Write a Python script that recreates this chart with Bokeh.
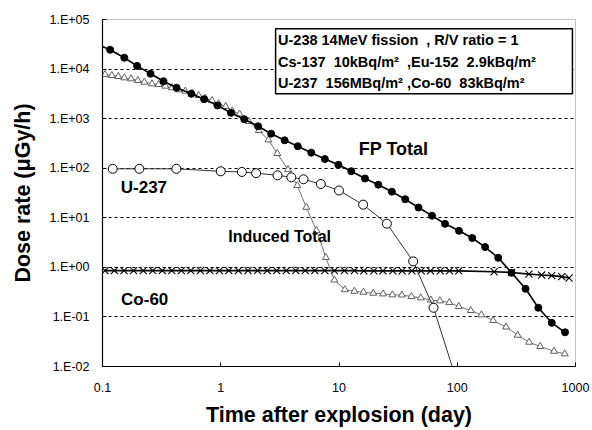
from bokeh.plotting import figure
from bokeh.models import FixedTicker, CustomJSTickFormatter, Label, BoxAnnotation, ColumnDataSource
from bokeh.embed import file_html
from bokeh.resources import INLINE

# ---------------- data ----------------
# FP Total (filled circles); first point only starts the line at the left edge
fp_t = [0.092, 0.116, 0.153, 0.196, 0.255, 0.328, 0.423, 0.564, 0.723, 0.938, 1.22, 1.58, 2.07,
        2.67, 3.47, 4.48, 5.83, 7.59, 9.89, 12.7, 16.6, 21.5, 28.0, 36.3, 47.0, 61.2, 78.8,
        103.5, 134, 172, 222, 288, 378, 485, 630, 816]
fp_v = [31000, 24500, 16900, 11600, 8040, 5690, 4190, 3170, 2470, 1840, 1310, 975, 701,
        497, 366, 278, 206, 153, 117, 87.1, 62.0, 46.5, 33.6, 23.7, 16.1, 11.0, 7.56,
        5.46, 3.91, 2.57, 1.56, 0.776, 0.369, 0.153, 0.076, 0.049]

# Induced Total (open triangles)
ind_t = [0.105, 0.120, 0.136, 0.153, 0.174, 0.199, 0.226, 0.262, 0.298, 0.340, 0.387, 0.440,
         0.501, 0.572, 0.650, 0.741, 0.845, 0.962, 1.10, 1.25, 1.44, 1.73, 2.10, 2.53, 3.01,
         3.71, 4.44, 5.29, 6.45, 7.74, 9.14, 11.2, 13.5, 16.1, 19.5, 23.6, 28.3, 34.0, 41.0,
         49.2, 59.8, 71.3, 85.7, 103, 130, 160, 201, 259, 324, 405, 503, 658, 811]
ind_v = [7770, 7410, 7080, 6660, 6360, 5880, 5440, 5050, 4890, 4520, 4200, 3830,
         3590, 3270, 2930, 2580, 2320, 1990, 1760, 1430, 1240, 876, 577, 374, 198,
         93.8, 44.7, 16.3, 5.53, 1.58, 0.556, 0.354, 0.329, 0.315, 0.301, 0.292, 0.279, 0.277, 0.258,
         0.243, 0.219, 0.211, 0.195, 0.162, 0.135, 0.110, 0.0847, 0.0627, 0.0428, 0.0309, 0.0253, 0.0203, 0.0180]

# U-237 (open circles); last point only continues the line below the axis
u_t = [0.122, 0.205, 0.421, 1.00, 1.51, 1.99, 3.02, 3.95, 5.01, 7.02, 10.0, 16.0, 25.4, 42.4, 63.0, 102]
u_v = [97.2, 97.2, 97.2, 86.7, 84.0, 79.3, 71.9, 65.6, 59.8, 48.0, 35.5, 18.4, 7.60, 1.32, 0.153, 0.0041]

# Co-60 (crosses)
co_t = [0.105, 0.126, 0.152, 0.183, 0.221, 0.266, 0.320, 0.385, 0.464, 0.558, 0.673, 0.810,
        0.975, 1.17, 1.41, 1.70, 2.05, 2.47, 2.97, 3.58, 4.31, 5.18, 6.24, 7.59, 9.14,
        11.1, 13.5, 16.2, 19.7, 23.5, 28.5, 34.2, 41.3, 49.5, 59.4, 71.9, 86.1, 103,
        205, 288, 404, 517, 629, 764, 883]
co_v = [0.86, 0.86, 0.86, 0.86, 0.86, 0.86, 0.86, 0.86, 0.86, 0.86, 0.86, 0.86,
        0.86, 0.86, 0.86, 0.86, 0.86, 0.86, 0.86, 0.86, 0.86, 0.86, 0.86, 0.86, 0.86,
        0.86, 0.86, 0.85, 0.85, 0.85, 0.85, 0.85, 0.85, 0.85, 0.85, 0.85, 0.85, 0.85,
        0.815, 0.79, 0.73, 0.70, 0.68, 0.65, 0.61]

x_ticks = [0.1, 1, 10, 100, 1000]
x_tick_labels = ["0.1", "1", "10", "100", "1000"]
y_ticks = [1e-2, 1e-1, 1e0, 1e1, 1e2, 1e3, 1e4, 1e5]
y_tick_labels = ["1.E-02", "1.E-01", "1.E+00", "1.E+01", "1.E+02", "1.E+03", "1.E+04", "1.E+05"]

NB = "\u00a0"
info_lines = ["U-238 14MeV fission" + NB + NB + ", R/V ratio = 1",
              "Cs-137" + NB + NB + "10kBq/m\u00b2" + NB + NB + ",Eu-152" + NB + NB + "2.9kBq/m\u00b2",
              "U-237" + NB + NB + "156MBq/m\u00b2 ,Co-60" + NB + NB + "83kBq/m\u00b2"]

FONT = "Liberation Sans"

p = figure(width=592, height=430, x_axis_type="log", y_axis_type="log",
           x_range=(0.1, 1000), y_range=(0.01, 1e5),
           output_backend="svg", toolbar_location=None,
           min_border_left=102, min_border_right=17, min_border_top=19, min_border_bottom=64,
           background_fill_color="white", border_fill_color="white")

p.outline_line_color = "#888888"
p.outline_line_dash = "1 1"
p.xgrid.visible = False
p.ygrid.grid_line_color = "black"
p.ygrid.grid_line_dash = "3 3"
p.ygrid.grid_line_width = 1

fmt_code = """
for (let i = 0; i < tv.length; i++) {
  if (Math.abs(Math.log10(tick) - Math.log10(tv[i])) < 1e-6) return labels[i];
}
return '';
"""
p.xaxis.ticker = FixedTicker(ticks=x_ticks)
p.xaxis.formatter = CustomJSTickFormatter(args=dict(tv=x_ticks, labels=x_tick_labels), code=fmt_code)
p.yaxis.ticker = FixedTicker(ticks=y_ticks)
p.yaxis.formatter = CustomJSTickFormatter(args=dict(tv=y_ticks, labels=y_tick_labels), code=fmt_code)

for ax in (p.xaxis[0], p.yaxis[0]):
    ax.axis_line_color = "black"
    ax.axis_line_width = 1.2
    ax.major_tick_in = 4
    ax.major_tick_out = 0
    ax.minor_tick_in = 0
    ax.minor_tick_out = 0
    ax.major_tick_line_color = "black"
    ax.major_label_text_font = FONT
    ax.major_label_text_font_size = "12.5px"
    ax.major_label_text_color = "black"
    ax.axis_label_text_font = FONT
    ax.axis_label_text_font_style = "bold"
    ax.axis_label_text_color = "black"

p.xaxis.axis_label = "Time after explosion (day)"
p.xaxis.axis_label_text_font_size = "21.5px"
p.xaxis.major_label_standoff = 16
p.xaxis.axis_label_standoff = 8
p.yaxis.axis_label = "Dose rate (\u03bcGy/h)"
p.yaxis.axis_label_text_font_size = "21.5px"
p.yaxis.major_label_standoff = 13
p.yaxis.axis_label_standoff = 12

# ---------------- series ----------------
fp_src = ColumnDataSource(dict(t=fp_t, v=fp_v))
fp_mk = ColumnDataSource(dict(t=fp_t[1:], v=fp_v[1:]))
ind_src = ColumnDataSource(dict(t=ind_t, v=ind_v))
u_src = ColumnDataSource(dict(t=u_t, v=u_v))
u_mk = ColumnDataSource(dict(t=u_t[:-1], v=u_v[:-1]))
co_src = ColumnDataSource(dict(t=co_t, v=co_v))

# Co-60
p.line("t", "v", source=co_src, line_color="black", line_width=1.6)
p.scatter("t", "v", source=co_src, marker="x", size=10, line_color="black", line_width=1.1)

# Induced total
p.line("t", "v", source=ind_src, line_color="#707070", line_width=1)
p.scatter("t", "v", source=ind_src, marker="triangle", size=7, fill_color="white",
          line_color="#606060", line_width=1)

# U-237
p.line("t", "v", source=u_src, line_color="#333333", line_width=1)
p.scatter("t", "v", source=u_mk, marker="circle", size=9, fill_color="white",
          line_color="black", line_width=1)

# FP total
p.line("t", "v", source=fp_src, line_color="black", line_width=1.6)
p.scatter("t", "v", source=fp_mk, marker="circle", size=7, fill_color="black", line_color="black")

# ---------------- annotations ----------------
p.add_layout(BoxAnnotation(left=2.91, right=942, bottom=3160, top=64900,
                           fill_color="white", fill_alpha=1.0,
                           line_color="black", line_width=1.5, line_alpha=1.0))
for txt, yv in zip(info_lines, [39400, 13900, 5220]):
    p.add_layout(Label(x=3.05, y=yv, text=txt, text_font=FONT, text_font_style="bold",
                       text_font_size="14.5px", text_baseline="middle", text_align="left",
                       text_color="black"))

for txt, xv, yv, fs in [("FP Total", 14.7, 249, "18px"),
                        ("U-237", 0.1427, 41.1, "17px"),
                        ("Induced Total", 1.156, 4.16, "16px"),
                        ("Co-60", 0.1436, 0.222, "17px")]:
    p.add_layout(Label(x=xv, y=yv, text=txt, text_font=FONT, text_font_style="bold",
                       text_font_size=fs, text_baseline="middle", text_align="left",
                       text_color="black"))

open("out.html", "w").write(file_html(p, INLINE))
